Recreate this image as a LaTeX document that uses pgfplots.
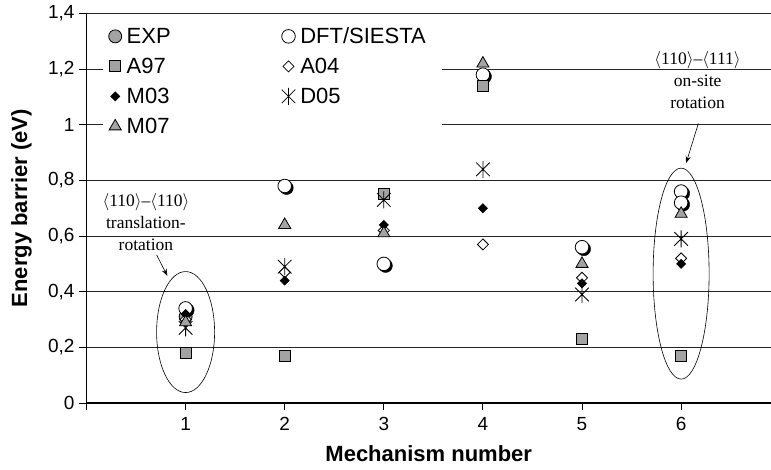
\documentclass[border=0pt]{standalone}
\usepackage{pgfplots}
\pgfplotsset{compat=1.18}
\usepackage{fontspec}
\setmainfont{Liberation Sans}
\newfontfamily\serif{Liberation Serif}
\usetikzlibrary{arrows.meta}
\definecolor{markgray}{RGB}{163,163,163}

% six-armed star: vertical bar plus a cross
\pgfdeclareplotmark{ast6}{%
  \pgfpathmoveto{\pgfqpoint{0pt}{\pgfplotmarksize}}%
  \pgfpathlineto{\pgfqpoint{0pt}{-\pgfplotmarksize}}%
  \pgfpathmoveto{\pgfqpoint{-0.8\pgfplotmarksize}{0.8\pgfplotmarksize}}%
  \pgfpathlineto{\pgfqpoint{0.8\pgfplotmarksize}{-0.8\pgfplotmarksize}}%
  \pgfpathmoveto{\pgfqpoint{-0.8\pgfplotmarksize}{-0.8\pgfplotmarksize}}%
  \pgfpathlineto{\pgfqpoint{0.8\pgfplotmarksize}{0.8\pgfplotmarksize}}%
  \pgfusepathqstroke}

\begin{document}
\begin{tikzpicture}
\useasboundingbox (-86.5pt,-66pt) rectangle (684.5pt,403pt);
\begin{axis}[
  scale only axis, width=684.5pt, height=389.5pt,
  xmin=0, xmax=6.907, ymin=0, ymax=1.4,
  clip=false,
  axis x line*=bottom, axis y line*=left,
  axis line style={line width=1.2pt, black},
  xtick={0,1,2,3,4,5,6}, xticklabels={,1,2,3,4,5,6},
  ytick={0,0.2,0.4,0.6,0.8,1,1.2,1.4},
  tick align=outside, major tick length=7pt,
  tick style={line width=0.9pt, black},
  ymajorgrids, grid style={line width=0.9pt, black!85},
  /pgf/number format/assume math mode=true,
  yticklabel style={/pgf/number format/use comma, font=\fontsize{19}{22}\selectfont, xshift=-1.5pt},
  xticklabel style={font=\fontsize{19}{22}\selectfont, yshift=-4pt},
  xlabel={Mechanism number}, ylabel={Energy barrier (eV)},
  every axis x label/.style={at={(rel axis cs:0.5,-0.1507)}, anchor=base, font=\fontsize{22}{25}\bfseries},
  every axis y label/.style={at={(rel axis cs:-0.095,0.5)}, anchor=center, rotate=90, font=\fontsize{22}{25}\bfseries},
  legend columns=2,
  legend cell align=left,
  legend style={at={(rel axis cs:0.0234,0.988)}, anchor=north west, draw=none, fill=white,
    inner xsep=6pt, inner ysep=3pt, row sep=0pt,
    font=\fontsize{22}{25}\selectfont,
    nodes={inner xsep=0pt, inner ysep=5pt, text height=17.5pt, text depth=2.5pt, text width=136pt, align=left},
    /tikz/every odd column/.append style={column sep=5pt},
    /tikz/every even column/.append style={column sep=19pt}},
]
% EXP
\addplot[only marks, mark=*, mark size=6.5pt, mark options={fill=markgray, draw=black, line width=0.8pt}]
  coordinates {(1,0.31)};
\addlegendentry{EXP}
% shadow under the DFT circles
\addplot[forget plot, only marks, mark=*, mark size=6.8pt, mark options={fill=black, draw=black, xshift=1.8pt, yshift=-1.8pt}]
  coordinates {(1,0.34)(2,0.78)(3,0.50)(4,1.18)(5,0.56)(6,0.76)(6,0.72)};
\addplot[only marks, mark=*, mark size=6.8pt, mark options={fill=white, draw=black, line width=0.8pt}]
  coordinates {(1,0.34)(2,0.78)(3,0.50)(4,1.18)(5,0.56)(6,0.76)(6,0.72)};
\addlegendentry{DFT/SIESTA}
% A97
\addplot[only marks, mark=square*, mark size=5.5pt, mark options={fill=markgray, draw=black, line width=0.8pt}]
  coordinates {(1,0.18)(2,0.17)(3,0.75)(4,1.14)(5,0.23)(6,0.17)};
\addlegendentry{A97}
% A04
\addplot[only marks, mark=square*, mark size=3.9pt, mark options={rotate=45, fill=white, draw=black, line width=0.8pt}]
  coordinates {(1,0.30)(2,0.47)(3,0.62)(4,0.57)(5,0.45)(6,0.52)};
\addlegendentry{A04}
% M03
\addplot[only marks, mark=square*, mark size=3.2pt, mark options={rotate=45, fill=black, draw=black, line width=0.6pt}]
  coordinates {(1,0.32)(2,0.44)(3,0.64)(4,0.70)(5,0.43)(6,0.50)};
\addlegendentry{M03}
% D05
\addplot[only marks, mark=ast6, mark size=8.5pt, mark options={draw=black, line width=0.8pt}]
  coordinates {(1,0.27)(2,0.49)(3,0.73)(4,0.84)(5,0.39)(6,0.59)};
\addlegendentry{D05}
% M07
\addplot[only marks, mark=triangle*, mark size=7pt, mark options={fill=markgray, draw=black, line width=0.8pt}]
  coordinates {(1,0.29)(2,0.64)(3,0.61)(4,1.22)(5,0.50)(6,0.68)};
\addlegendentry{M07}

% grouped mechanisms
\draw[line width=0.6pt] (axis cs:1,0.255) ellipse [x radius=29pt, y radius=60.5pt];
\draw[line width=0.6pt] (axis cs:6,0.465) ellipse [x radius=28pt, y radius=105.5pt];

\node[font=\serif\fontsize{17.5}{21.7}\selectfont, align=center] at (axis cs:0.6,0.65)
  {\(\langle\)110\(\rangle\)–\(\langle\)110\(\rangle\)\\translation-\\rotation};
\draw[-{Stealth[length=7pt,width=5pt]}, line width=0.6pt] (axis cs:0.708,0.532) -- (axis cs:0.816,0.457);

\node[font=\serif\fontsize{17.5}{21.7}\selectfont, align=center] at (axis cs:6.166,1.161)
  {\(\langle\)110\(\rangle\)–\(\langle\)111\(\rangle\)\\on-site\\rotation};
\draw[-{Stealth[length=7pt,width=5pt]}, line width=0.6pt] (axis cs:6.174,1.005) -- (axis cs:6.050,0.862);
\end{axis}
\end{tikzpicture}
\end{document}
